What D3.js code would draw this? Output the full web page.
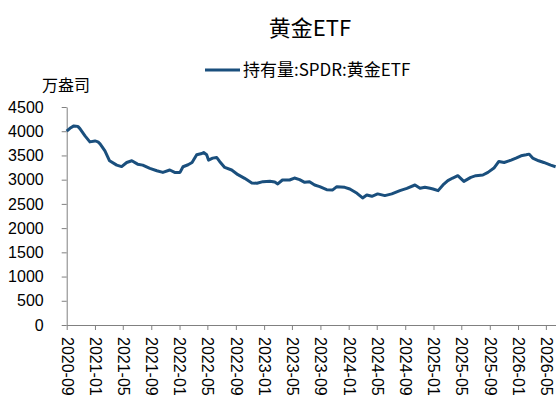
<!DOCTYPE html>
<html>
<head>
<meta charset="utf-8">
<script src="https://cdn.jsdelivr.net/npm/d3@7"></script>
<style>
  body { margin: 0; background: #fff; }
  text { font-family: "Liberation Sans", Arial, sans-serif; }
  .cjk { font-family: "Noto Sans CJK SC", "Noto Sans", sans-serif; }
</style>
</head>
<body>
<div id="chart"></div>
<script>
// chart data (万盎司)
var dates = [
  "2020-09-01","2020-09-15","2020-10-02","2020-10-19","2020-10-28","2020-11-19","2020-12-10",
  "2021-01-01","2021-01-14","2021-01-23","2021-02-13","2021-03-05","2021-04-05","2021-04-26",
  "2021-05-18","2021-06-09","2021-07-04","2021-07-26","2021-08-26","2021-09-25","2021-10-21",
  "2021-11-20","2021-12-11","2022-01-03","2022-01-16","2022-02-07","2022-02-24","2022-03-16",
  "2022-04-07","2022-04-15","2022-04-28","2022-05-06","2022-05-24","2022-06-10","2022-06-23",
  "2022-07-15","2022-08-14","2022-09-10","2022-10-09","2022-11-09","2022-12-01","2022-12-27",
  "2023-01-26","2023-02-16","2023-03-01","2023-03-21","2023-04-21","2023-05-12","2023-06-03",
  "2023-06-25","2023-07-16","2023-08-07","2023-08-29","2023-09-28","2023-10-24","2023-11-11",
  "2023-12-15","2024-01-06","2024-02-06","2024-03-01","2024-03-19","2024-04-10","2024-05-05",
  "2024-06-05","2024-07-05","2024-08-09","2024-09-08","2024-10-13","2024-11-04","2024-11-25",
  "2024-12-17","2024-12-30","2025-01-21","2025-02-11","2025-03-04","2025-03-25","2025-04-16",
  "2025-05-12","2025-06-11","2025-07-03","2025-08-02","2025-08-24","2025-09-19","2025-10-10",
  "2025-11-02","2025-12-02","2025-12-23","2026-01-14","2026-02-05","2026-02-18","2026-03-05",
  "2026-03-31","2026-04-22","2026-05-22","2026-06-12"
];
var holdings = [
  4000,4060,4110,4100,4054,3904,3780,
  3800,3780,3740,3595,3390,3300,3270,
  3355,3390,3320,3300,3232,3185,3150,
  3200,3150,3150,3267,3308,3355,3513,
  3540,3560,3513,3404,3445,3459,3376,
  3253,3200,3103,3027,2932,2925,2959,
  2965,2952,2911,2993,2993,3034,3000,
  2945,2959,2890,2856,2794,2788,2856,
  2842,2808,2719,2623,2685,2657,2706,
  2671,2706,2774,2821,2890,2821,2842,
  2821,2808,2774,2890,2979,3034,3082,
  2965,3048,3082,3096,3150,3240,3376,
  3355,3404,3445,3493,3513,3527,3445,
  3390,3355,3300,3267
];
var yTicks = [0, 500, 1000, 1500, 2000, 2500, 3000, 3500, 4000, 4500];
var seriesName = "持有量:SPDR:黄金ETF";
var chartTitle = "黄金ETF";
var unitLabel = "万盎司";

var svgWidth = 556;
var svgHeight = 400;
var lineColor = "#1a4f7d";
var axisColor = "#808080";

var parseDate = d3.timeParse("%Y-%m-%d");
var data = dates.map(function(d, i) {
  return { date: parseDate(d), value: holdings[i] };
});

var svg = d3.select("#chart")
  .append("svg")
  .attr("width", svgWidth)
  .attr("height", svgHeight);

// scales
var xScale = d3.scaleTime()
  .domain([parseDate("2020-09-01"), parseDate("2026-07-01")])
  .range([66.7, 560]);

var yScale = d3.scaleLinear()
  .domain([0, 4500])
  .range([325, 107]);

// title
svg.append("text")
  .attr("class", "cjk")
  .attr("x", 310)
  .attr("y", 36)
  .attr("text-anchor", "middle")
  .attr("font-size", 22)
  .attr("fill", "#000")
  .text(chartTitle);

// legend
svg.append("line")
  .attr("x1", 205)
  .attr("x2", 240)
  .attr("y1", 70)
  .attr("y2", 70)
  .attr("stroke", lineColor)
  .attr("stroke-width", 3);

svg.append("text")
  .attr("class", "cjk")
  .attr("x", 243)
  .attr("y", 76)
  .attr("font-size", 17)
  .attr("fill", "#000")
  .text(seriesName);

// unit label
svg.append("text")
  .attr("class", "cjk")
  .attr("x", 66)
  .attr("y", 91)
  .attr("text-anchor", "middle")
  .attr("font-size", 16)
  .attr("fill", "#000")
  .text(unitLabel);

// y axis
var yAxis = svg.append("g")
  .attr("transform", "translate(66.7,0)")
  .call(d3.axisLeft(yScale)
    .tickValues(yTicks)
    .tickFormat(d3.format("d"))
    .tickSize(5)
    .tickPadding(18)
    .tickSizeOuter(0));

yAxis.selectAll("text")
  .attr("font-size", 16)
  .attr("fill", "#000");

// x axis
var xAxis = svg.append("g")
  .attr("transform", "translate(0,325)")
  .call(d3.axisBottom(xScale)
    .ticks(d3.timeMonth.every(4))
    .tickFormat(d3.timeFormat("%Y-%m"))
    .tickSize(5)
    .tickSizeOuter(0));

xAxis.selectAll("text")
  .attr("font-size", 16)
  .attr("fill", "#000")
  .attr("transform", "rotate(90)")
  .attr("x", 12)
  .attr("y", 0)
  .attr("dy", "0.35em")
  .attr("text-anchor", "start");

svg.selectAll(".domain, .tick line")
  .attr("stroke", axisColor);

// holdings line
var line = d3.line()
  .x(d => xScale(d.date))
  .y(d => yScale(d.value));

svg.append("path")
  .datum(data)
  .attr("fill", "none")
  .attr("stroke", lineColor)
  .attr("stroke-width", 3)
  .attr("stroke-linejoin", "round")
  .attr("d", line);
</script>
</body>
</html>
